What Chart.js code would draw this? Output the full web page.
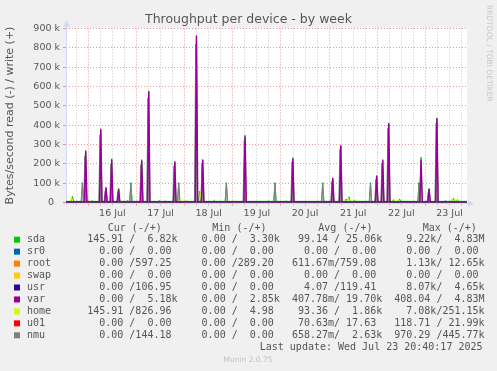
<!DOCTYPE html>
<html>
<head>
<meta charset="utf-8">
<script src="https://cdn.jsdelivr.net/npm/chart.js@4"></script>
<style>
  html, body { margin: 0; padding: 0; background: #f0f0f0; }
  canvas { display: block; }
</style>
</head>
<body>
<canvas id="throughput-chart" width="497" height="371"></canvas>
<script>
const chartTitle = "Throughput per device - by week";
const yAxisTitle = "Bytes/second read (-) / write (+)";
const lastUpdate = "Last update: Wed Jul 23 20:40:17 2025";
const muninVersion = "Munin 2.0.75";
const watermark = "RRDTOOL / TOBI OETIKER";

// x values are hours since 15 Jul 00:00
const startHour = 12.88;
const endHour = 212.7;
const dayLabelHours = [36, 60, 84, 108, 132, 156, 180, 204];
const dayLabels = ["16 Jul", "17 Jul", "18 Jul", "19 Jul", "20 Jul", "21 Jul", "22 Jul", "23 Jul"];
const yMax = 900000;

const deviceNames = ["sda", "sr0", "root", "swap", "usr", "var", "home", "u01", "nmu"];
const deviceColors = ["#00cc00", "#0066b3", "#ff8000", "#ffcc00", "#330099", "#990099", "#ccff00", "#ff0000", "#808080"];
const curValues = ["145.91 /  6.82k", "  0.00 /  0.00 ", "  0.00 /597.25 ", "  0.00 /  0.00 ", "  0.00 /106.95 ", "  0.00 /  5.18k", "145.91 /826.96 ", "  0.00 /  0.00 ", "  0.00 /144.18 "];
const minValues = ["  0.00 /  3.30k", "  0.00 /  0.00 ", "  0.00 /289.20 ", "  0.00 /  0.00 ", "  0.00 /  0.00 ", "  0.00 /  2.85k", "  0.00 /  4.98 ", "  0.00 /  0.00 ", "  0.00 /  0.00 "];
const avgValues = [" 99.14 / 25.06k", "  0.00 /  0.00 ", "611.67m/759.08 ", "  0.00 /  0.00 ", "  4.07 /119.41 ", "407.78m/ 19.70k", " 93.36 /  1.86k", " 70.63m/ 17.63 ", "658.27m/  2.63k"];
const maxValues = ["  9.22k/  4.83M", "  0.00 /  0.00 ", "  1.13k/ 12.65k", "  0.00 /  0.00 ", "  8.07k/  4.65k", "408.04 /  4.83M", "  7.08k/251.15k", "118.71 / 21.99k", "970.29 /445.77k"];

// write peaks (hour, bytes/s); between peaks the line sits on its base level
const sdaHours = [16.1, 21.05, 22.7, 26.0, 30.2, 32.8, 35.65, 39.1, 43.5, 45.2, 50.6, 54.1, 59.4, 62.4, 67.1, 69.05, 72.9, 77.9, 79.5, 81.0, 86.8, 92.8, 102.1, 113.8, 117.0, 122.7, 125.9, 140.8, 145.8, 149.8, 152.4, 153.9, 156.6, 164.6, 167.7, 170.7, 173.7, 176.1, 179.1, 188.8, 189.8, 193.8, 197.7, 202.0, 206.0, 208.0];
const sdaValues = [32000, 103000, 270000, 10000, 382000, 80000, 226000, 74000, 10000, 103000, 222000, 578000, 10000, 8000, 214000, 103000, 8000, 865000, 58000, 224000, 12000, 103000, 349000, 8000, 103000, 8000, 232000, 103000, 129000, 298000, 18000, 30000, 12000, 103000, 141000, 223000, 412000, 15000, 18000, 104000, 235000, 74000, 438000, 10000, 22000, 15000];
const sdaBase = 6000;

const varHours = [22.7, 30.2, 32.8, 35.65, 39.1, 50.6, 54.1, 67.1, 77.9, 81.0, 102.1, 125.9, 145.8, 149.8, 167.7, 170.7, 173.7, 189.8, 193.8, 197.7];
const varValues = [265000, 378000, 76000, 222000, 70000, 217000, 574000, 210000, 861000, 220000, 341000, 228000, 125000, 294000, 137000, 219000, 409000, 221000, 70000, 434000];
const varBase = 3000;

const nmuHours = [21.05, 22.3, 29.8, 32.4, 35.25, 38.7, 45.2, 50.2, 53.7, 66.7, 69.05, 77.5, 79.5, 80.6, 92.8, 101.7, 117.0, 125.5, 140.8, 145.4, 149.4, 164.6, 167.3, 170.3, 173.3, 188.8, 193.4, 197.3];
const nmuValues = [99000, 240000, 350000, 60000, 200000, 55000, 99000, 195000, 540000, 190000, 99000, 820000, 45000, 200000, 99000, 320000, 99000, 210000, 99000, 110000, 275000, 99000, 120000, 200000, 385000, 99000, 55000, 410000];
const nmuBase = 1000;

const homeHours = [15.6, 29.5, 41.5, 69.9, 79.8, 128.2, 152.1, 153.6, 157.6, 176.6, 178.1, 199.9, 205.0, 206.5, 208.0];
const homeValues = [25000, 10000, 12000, 15000, 50000, 8000, 12000, 25000, 15000, 10000, 15000, 8000, 15000, 20000, 12000];
const homeBase = 1500;

function spikeLine(hours, values, base) {
  const pts = [{ x: startHour, y: base }];
  hours.forEach((h, i) => {
    pts.push({ x: h - 0.6, y: base }, { x: h, y: values[i] }, { x: h + 0.6, y: base });
  });
  pts.push({ x: endHour, y: base });
  return pts;
}

const seriesPoints = {
  sda: spikeLine(sdaHours, sdaValues, sdaBase),
  var: spikeLine(varHours, varValues, varBase),
  nmu: spikeLine(nmuHours, nmuValues, nmuBase),
  home: spikeLine(homeHours, homeValues, homeBase),
};

// lower order is drawn on top
const drawOrder = { sda: 5, sr0: 8, root: 7, swap: 9, usr: -1, var: 0, home: 3, u01: 10, nmu: 4 };

const datasets = deviceNames.map((name, i) => ({
  label: name,
  data: seriesPoints[name] || spikeLine([], [], 0),
  borderColor: deviceColors[i],
  backgroundColor: name === "nmu" ? "rgba(128, 128, 128, 0.5)" : deviceColors[i],
  fill: name === "nmu" ? "origin" : false,
  borderWidth: name === "usr" ? 2 : name === "var" ? 1.5 : 1,
  order: drawOrder[name],
}));

const gridTicks = [];
for (let h = 18; h <= 210; h += 6) gridTicks.push(h);
const yTicks = [];
for (let v = 0; v <= yMax; v += 50000) yTicks.push(v);

const majorGrid = "rgba(225, 50, 50, 0.5)";
const minorGrid = "rgba(130, 130, 130, 0.45)";
const axisColor = "#cfd6f8";
const fontColor = "#555555";

const muninFrame = {
  id: "muninFrame",
  beforeDraw(chart) {
    const { ctx, chartArea: a } = chart;
    ctx.save();
    ctx.fillStyle = "#f0f0f0";
    ctx.fillRect(0, 0, chart.width, chart.height);
    ctx.fillStyle = "#ffffff";
    ctx.fillRect(a.left, a.top, a.right - a.left, a.bottom - a.top);
    ctx.restore();
  },
  beforeDatasetsDraw(chart) {
    const { ctx, chartArea: a } = chart;
    const x0 = Math.round(a.left) + 0.5;
    const y0 = Math.round(a.bottom) + 0.5;
    ctx.save();
    ctx.strokeStyle = axisColor;
    ctx.fillStyle = axisColor;
    ctx.lineWidth = 1;
    ctx.beginPath();
    ctx.moveTo(x0, y0 + 3);
    ctx.lineTo(x0, a.top - 3);
    ctx.moveTo(x0 - 3, y0);
    ctx.lineTo(a.right + 3, y0);
    ctx.stroke();
    ctx.beginPath();
    ctx.moveTo(x0 - 3, a.top - 2);
    ctx.lineTo(x0 + 3, a.top - 2);
    ctx.lineTo(x0, a.top - 8);
    ctx.closePath();
    ctx.moveTo(a.right + 1, y0 - 3);
    ctx.lineTo(a.right + 1, y0 + 3);
    ctx.lineTo(a.right + 7, y0);
    ctx.closePath();
    ctx.fill();
    ctx.restore();
  },
  afterDraw(chart) {
    const { ctx } = chart;
    ctx.save();
    ctx.fillStyle = fontColor;
    ctx.font = '12.5px "DejaVu Sans"';
    ctx.textAlign = "center";
    ctx.textBaseline = "alphabetic";
    ctx.fillText(chartTitle, 248.5, 23);

    ctx.save();
    ctx.translate(489, 5);
    ctx.rotate(Math.PI / 2);
    ctx.fillStyle = "#c8c8c8";
    ctx.font = '7.5px "DejaVu Sans"';
    ctx.textAlign = "left";
    ctx.textBaseline = "middle";
    ctx.fillText(watermark, 0, 0);
    ctx.restore();

    ctx.font = '10px "DejaVu Sans Mono"';
    ctx.textBaseline = "middle";
    ctx.textAlign = "left";
    ctx.fillStyle = fontColor;
    ctx.fillText("Cur (-/+)", 107.7, 228);
    ctx.fillText("Min (-/+)", 212.3, 228);
    ctx.fillText("Avg (-/+)", 318.3, 228);
    ctx.fillText("Max (-/+)", 422.7, 228);
    deviceNames.forEach((name, i) => {
      const y = 239.7 + 11.95 * i;
      ctx.fillStyle = deviceColors[i];
      ctx.fillRect(14, y - 3, 6, 6);
      ctx.fillStyle = fontColor;
      const row = name.padEnd(10) + curValues[i] + "  " + minValues[i] + "  " + avgValues[i] + "  " + maxValues[i];
      ctx.fillText(row, 27, y);
    });
    ctx.textAlign = "right";
    ctx.fillText(lastUpdate, 482.5, 347.7);

    ctx.textAlign = "center";
    ctx.fillStyle = "#c0c0c0";
    ctx.font = '7.5px "DejaVu Sans"';
    ctx.fillText(muninVersion, 248, 360.3);
    ctx.restore();
  },
};

new Chart(document.getElementById("throughput-chart"), {
  type: "line",
  data: { datasets },
  plugins: [muninFrame],
  options: {
    responsive: false,
    animation: false,
    devicePixelRatio: 1,
    layout: { padding: { top: 28.5, right: 30, bottom: 148.5, left: 0 } },
    plugins: {
      legend: { display: false },
      tooltip: { enabled: false },
    },
    elements: {
      point: { radius: 0 },
      line: { tension: 0 },
    },
    scales: {
      x: {
        type: "linear",
        min: startHour,
        max: endHour,
        afterFit(scale) { scale.height = 20; },
        afterBuildTicks(scale) { scale.ticks = gridTicks.map((v) => ({ value: v })); },
        grid: {
          color: (c) => (c.tick && c.tick.value % 24 === 0 ? majorGrid : minorGrid),
          tickLength: 3,
        },
        border: { display: false, dash: [1, 2] },
        ticks: {
          autoSkip: false,
          maxRotation: 0,
          minRotation: 0,
          padding: 2,
          color: fontColor,
          font: { family: "DejaVu Sans", size: 9.5 },
          callback: (v) => {
            const i = dayLabelHours.indexOf(v);
            return i >= 0 ? dayLabels[i] : "";
          },
        },
      },
      y: {
        min: 0,
        max: yMax,
        afterFit(scale) { scale.width = 66; },
        afterBuildTicks(scale) { scale.ticks = yTicks.map((v) => ({ value: v })); },
        grid: {
          color: (c) => (c.tick && c.tick.value % 100000 === 0 ? majorGrid : minorGrid),
          tickLength: 3,
        },
        border: { display: false, dash: [1, 2] },
        title: {
          display: true,
          text: yAxisTitle,
          color: fontColor,
          font: { family: "DejaVu Sans", size: 11 },
          padding: { top: 4, bottom: 0 },
        },
        ticks: {
          padding: 3,
          color: fontColor,
          font: { family: "DejaVu Sans", size: 9.5 },
          callback: (v) => (v % 100000 === 0 ? (v === 0 ? "0  " : v / 1000 + " k") : ""),
        },
      },
    },
  },
});
</script>
</body>
</html>
